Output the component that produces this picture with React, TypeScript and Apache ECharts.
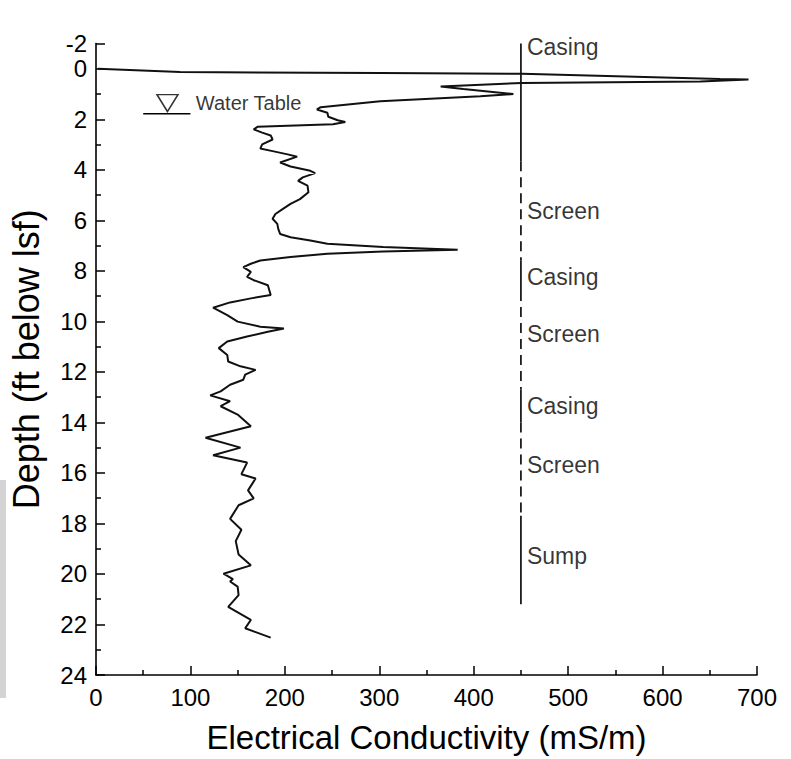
import React, { useEffect, useRef } from "react";
import * as echarts from "echarts";

// Conductivity log (mS/m) vs depth (ft below lsf)
const depthFt = [
  0.0, 0.13, 0.17, 0.2, 0.41, 0.43, 0.5, 0.56, 0.7, 0.8,
  1.0, 1.09, 1.29, 1.52, 1.61, 1.74, 1.9, 2.04, 2.11, 2.2,
  2.3, 2.4, 2.53, 2.64, 2.8, 2.99, 3.16, 3.26, 3.39, 3.48,
  3.71, 3.87, 4.04, 4.13, 4.3, 4.44, 4.63, 4.89, 5.16, 5.35,
  5.55, 5.75, 5.94, 6.14, 6.34, 6.54, 6.67, 6.8, 6.93, 7.06,
  7.17, 7.23, 7.32, 7.45, 7.59, 7.72, 7.85, 8.04, 8.24, 8.37,
  8.57, 8.96, 9.09, 9.25, 9.46, 9.75, 10.01, 10.21, 10.28, 10.41,
  10.6, 10.8, 11.06, 11.33, 11.59, 11.78, 11.92, 12.11, 12.31, 12.51,
  12.77, 12.93, 13.16, 13.36, 13.69, 14.15, 14.61, 15.0, 15.3, 15.59,
  16.05, 16.22, 16.69, 17.01, 17.28, 17.82, 18.25, 18.7, 19.23, 19.66,
  19.99, 20.2, 20.3, 20.5, 20.84, 21.3, 21.82, 22.15, 22.52,
];
const conductivity = [
  2, 89, 301, 451, 661, 691, 640, 451, 365, 389,
  442, 407, 301, 238, 234, 245, 246, 256, 264, 251,
  171, 167, 176, 185, 187, 176, 174, 187, 203, 213,
  195, 206, 227, 232, 219, 214, 224, 225, 216, 206,
  198, 190, 187, 192, 193, 195, 206, 227, 245, 304,
  383, 304, 245, 206, 174, 164, 156, 164, 160, 167,
  182, 185, 164, 142, 124, 139, 150, 174, 199, 182,
  160, 139, 130, 139, 140, 153, 169, 158, 156, 142,
  132, 121, 142, 132, 150, 164, 116, 153, 124, 160,
  154, 169, 161, 167, 151, 142, 154, 148, 151, 164,
  135, 145, 142, 150, 151, 140, 164, 158, 185,
];

// Well construction (drawn at x = 450 mS/m)
const wellX = 450;
const sectionKind = ["Casing", "Screen", "Casing", "Screen", "Casing", "Screen", "Sump"];
const sectionTop = [-1, 3.66, 7.6, 8.8, 12.7, 14.0, 17.7];
const sectionBottom = [3.66, 7.6, 8.8, 12.7, 14.0, 17.7, 21.2];
const sectionLabelDepth = [-0.85, 5.65, 8.25, 10.5, 13.35, 15.7, 19.3];

// Water table marker
const waterTableDepth = 1.78;
const waterTableSymbolDepth = 1.36;
const waterTableX = 75.7;
const waterTableLineX = [50, 100];

// Axes
const xMin = 0;
const xMax = 700;
const xInterval = 100;
const yMin = -1;
const yMax = 24;

export default function App() {
  const ref = useRef<HTMLDivElement>(null);
  useEffect(() => {
    document.body.style.margin = "0";
    const chart = echarts.init(ref.current!, null, { renderer: "svg" });
    const font = "'Liberation Sans', Arial, Helvetica, sans-serif";
    const black = "#000";
    const curve = depthFt.map((d, i) => [conductivity[i], d]);

    const wellSeries = sectionKind.map((k, i) => ({
      type: "line",
      data: [
        [wellX, sectionTop[i]],
        [wellX, sectionBottom[i]],
      ],
      symbol: "none",
      silent: true,
      z: 3,
      lineStyle: {
        color: black,
        width: 1.6,
        type: k === "Screen" ? [10, 6] : "solid",
      },
    }));

    chart.setOption({
      animation: false,
      backgroundColor: "#fff",
      graphic: [
        {
          type: "rect",
          left: 0,
          top: 480,
          shape: { width: 6, height: 218 },
          style: { fill: "#d4d4d4" },
          silent: true,
        },
      ],
      grid: { left: 95.5, right: 34, top: 43.5, bottom: 78.7, containLabel: false },
      xAxis: {
        type: "value",
        min: xMin,
        max: xMax,
        interval: xInterval,
        name: "Electrical Conductivity (mS/m)",
        nameLocation: "middle",
        nameGap: 46,
        nameTextStyle: { fontSize: 33, fontFamily: font, color: black },
        axisLine: { show: true, onZero: false, lineStyle: { color: black, width: 1.6 } },
        axisTick: { show: true, inside: true, length: 9, lineStyle: { color: black, width: 1.5 } },
        minorTick: { show: true, splitNumber: 2, length: 5, lineStyle: { color: black, width: 1.5 } },
        axisLabel: { fontSize: 24, color: black, fontFamily: font, margin: 10 },
        splitLine: { show: false },
      },
      yAxis: {
        type: "value",
        inverse: true,
        min: yMin,
        max: yMax,
        splitNumber: 12,
        name: "Depth (ft below lsf)",
        nameLocation: "middle",
        nameGap: 52,
        nameTextStyle: { fontSize: 36, fontFamily: font, color: black },
        axisLine: { show: true, onZero: false, lineStyle: { color: black, width: 1.6 } },
        axisTick: { show: true, inside: true, length: 9, lineStyle: { color: black, width: 1.5 } },
        minorTick: { show: true, splitNumber: 2, length: 5, lineStyle: { color: black, width: 1.5 } },
        axisLabel: {
          fontSize: 24,
          color: black,
          fontFamily: font,
          margin: 9,
          showMinLabel: true,
          formatter: (v: number) => (v === yMin ? "-2" : String(Math.abs(v) < 1e-9 ? 0 : v)),
        },
        splitLine: { show: false },
      },
      series: [
        {
          type: "line",
          data: curve,
          symbol: "none",
          silent: true,
          z: 4,
          lineStyle: { color: "#111", width: 2 },
        },
        ...wellSeries,
        {
          type: "scatter",
          data: sectionKind.map((k, i) => [wellX, sectionLabelDepth[i], k]),
          symbolSize: 0,
          silent: true,
          label: {
            show: true,
            position: "right",
            distance: 6,
            fontSize: 23,
            fontFamily: font,
            color: black,
            formatter: (p: any) => p.data[2],
          },
        },
        {
          type: "line",
          data: waterTableLineX.map((x) => [x, waterTableDepth]),
          symbol: "none",
          silent: true,
          lineStyle: { color: black, width: 1.6 },
        },
        {
          type: "scatter",
          data: [[waterTableX, waterTableSymbolDepth]],
          symbol: "triangle",
          symbolRotate: 180,
          symbolSize: [21, 17],
          silent: true,
          itemStyle: { color: "#fff", borderColor: black, borderWidth: 1.5 },
          label: {
            show: true,
            position: "right",
            distance: 17,
            fontSize: 20,
            fontFamily: font,
            color: black,
            formatter: "Water Table",
          },
        },
      ],
    });
    return () => chart.dispose();
  }, []);
  return <div ref={ref} style={{ width: 791, height: 759 }} />;
}
